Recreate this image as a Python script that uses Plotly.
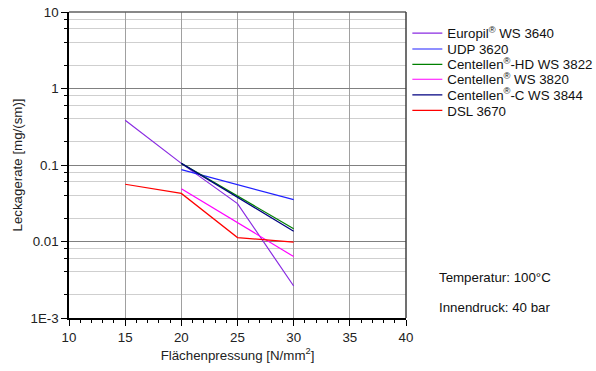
import plotly.graph_objects as go

x_vals = [15, 20, 25, 30]
x_vals_from20 = [20, 25, 30]

europil = [0.385, 0.105, 0.0313, 0.00262]
udp = [0.087, 0.0548, 0.0353]
centellen_hd = [0.105, 0.039, 0.0147]
centellen_3820 = [0.049, 0.0177, 0.00635]
centellen_c = [0.105, 0.0376, 0.0136]
dsl = [0.056, 0.0425, 0.01125, 0.0098]

names = [
    "Europil<sup>®</sup> WS 3640",
    "UDP 3620",
    "Centellen<sup>®</sup>-HD WS 3822",
    "Centellen<sup>®</sup> WS 3820",
    "Centellen<sup>®</sup>-C WS 3844",
    "DSL 3670",
]
colors = ["#8A2BE2", "#2020FF", "#008000", "#FF00FF", "#000080", "#FF0000"]
xs = [x_vals, x_vals_from20, x_vals_from20, x_vals_from20, x_vals_from20, x_vals]
ys = [europil, udp, centellen_hd, centellen_3820, centellen_c, dsl]

y_tickvals = [0.001, 0.01, 0.1, 1, 10]
y_ticktext = ["1E-3", "0.01", "0.1", "1", "10"]
y_minor = [m * d for d in [0.001, 0.01, 0.1, 1] for m in (2, 4, 6, 8)]

font_family = "Liberation Sans, Arial, sans-serif"
FS = 13.3

# vertical positions (paper fraction) of each legend entry
legend_y = [0.930, 0.878, 0.828, 0.779, 0.728, 0.6775]
legend_keys = ["legend", "legend2", "legend3", "legend4", "legend5", "legend6"]

fig = go.Figure()
for xv, yv, n, c, lk in zip(xs, ys, names, colors, legend_keys):
    fig.add_trace(go.Scatter(x=xv, y=yv, mode="lines", name=n, legend=lk,
                             line=dict(color=c, width=1.2)))

legend_layouts = {}
for lk, ly in zip(legend_keys, legend_y):
    legend_layouts[lk] = dict(x=1.004, y=ly, xanchor="left", yanchor="middle",
                              font=dict(size=FS, color="#111", family=font_family),
                              bgcolor="rgba(0,0,0,0)", borderwidth=0,
                              itemwidth=30)

fig.update_layout(
    width=596, height=371,
    margin=dict(l=69, r=190, t=12, b=53, autoexpand=False),
    paper_bgcolor="white", plot_bgcolor="white",
    font=dict(family=font_family, size=FS, color="#222"),
    showlegend=True,
    annotations=[
        dict(text="Temperatur: 100°C", xref="paper", yref="paper",
             x=1.092, y=0.131, xanchor="left", yanchor="middle",
             showarrow=False, font=dict(size=FS, color="#111")),
        dict(text="Innendruck: 40 bar", xref="paper", yref="paper",
             x=1.092, y=0.033, xanchor="left", yanchor="middle",
             showarrow=False, font=dict(size=FS, color="#111")),
    ],
    shapes=[
        dict(type="line", xref="paper", yref="paper", x0=0, x1=1, y0=1, y1=1,
             line=dict(color="#606060", width=1.5)),
        dict(type="line", xref="paper", yref="paper", x0=1, x1=1, y0=0, y1=1,
             line=dict(color="#404040", width=1.5)),
    ],
    **legend_layouts,
)

fig.update_xaxes(
    range=[10, 40], tickmode="linear", tick0=10, dtick=5,
    ticks="outside", ticklen=6, tickcolor="black", tickwidth=1,
    showline=True, linecolor="black", linewidth=1.5,
    showgrid=True, gridcolor="#a0a0a0", gridwidth=1,
    zeroline=False, automargin=False,
    minor=dict(dtick=1, tick0=10, ticks="outside", ticklen=3,
               tickcolor="black", showgrid=False),
    title=dict(text="Flächenpressung [N/mm<sup>2</sup>]", standoff=7,
               font=dict(size=FS)),
    tickfont=dict(size=FS),
)

fig.update_yaxes(
    type="log", range=[-3, 1],
    tickmode="array", tickvals=y_tickvals, ticktext=y_ticktext,
    ticks="outside", ticklen=6, tickcolor="black", tickwidth=1,
    showline=True, linecolor="black", linewidth=1.5,
    showgrid=True, gridcolor="#808080", gridwidth=1,
    zeroline=False, automargin=False,
    minor=dict(tickmode="array", tickvals=y_minor, ticks="outside",
               ticklen=3, tickcolor="black", showgrid=True,
               gridcolor="#cfcfcf", gridwidth=1),
    title=dict(text="Leckagerate [mg/(sm)]", standoff=5, font=dict(size=FS)),
    tickfont=dict(size=FS),
)

fig.write_html("out.html")
